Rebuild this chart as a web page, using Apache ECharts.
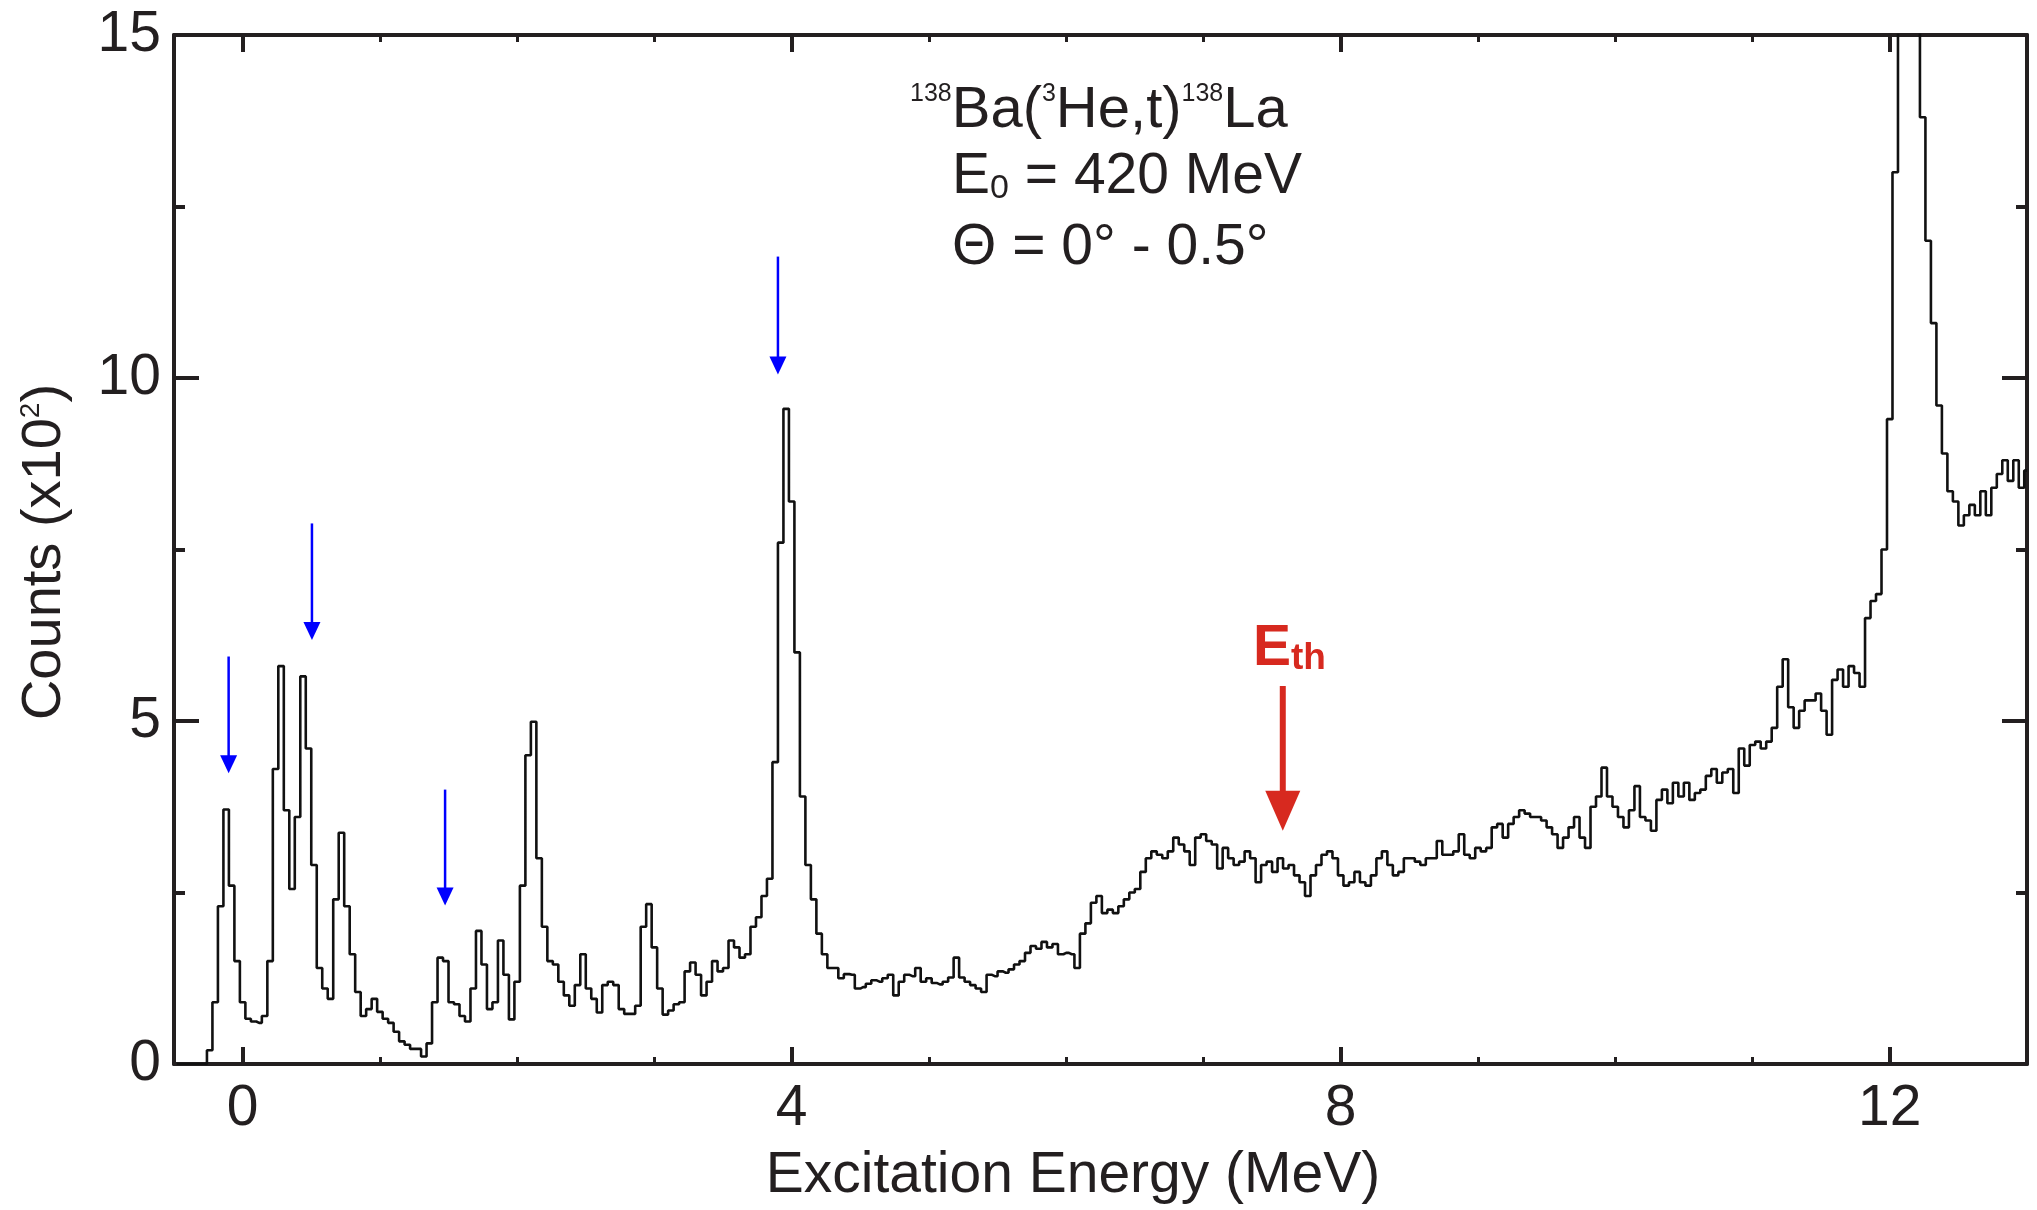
<!DOCTYPE html>
<html>
<head>
<meta charset="utf-8">
<script src="https://cdn.jsdelivr.net/npm/echarts@6/dist/echarts.min.js"></script>
<style>
html,body{margin:0;padding:0;background:#ffffff;}
#chart{width:2037px;height:1210px;}
</style>
</head>
<body>
<div id="chart"></div>
<script>
// ---- histogram binning (MeV) ----
const binStart = -0.5;
const binWidth = 0.04;

// ---- counts per bin (x10^2), 10 bins per row ----
const counts = [
  0, 0, 0, 0, 0, 0, 0.2, 0.9, 2.3, 3.71,              // -0.50
  2.6, 1.5, 0.9, 0.66, 0.62, 0.6, 0.7, 1.5, 4.3, 5.8,  // -0.10
  3.7, 2.55, 3.6, 5.65, 4.6, 2.9, 1.4, 1.1, 0.95, 2.4, // 0.30
  3.37, 2.3, 1.6, 1.05, 0.7, 0.8, 0.95, 0.76, 0.66, 0.6, // 0.70
  0.47, 0.33, 0.28, 0.22, 0.22, 0.11, 0.3, 0.9, 1.55, 1.5, // 1.10
  0.9, 0.87, 0.7, 0.62, 1.1, 1.94, 1.45, 0.8, 0.9, 1.8,  // 1.50
  1.3, 0.65, 1.2, 2.6, 4.5, 4.99, 3.0, 2.0, 1.5, 1.45,   // 1.90
  1.2, 1.0, 0.85, 1.15, 1.6, 1.1, 0.95, 0.75, 1.15, 1.2, // 2.30
  1.15, 0.8, 0.73, 0.73, 0.85, 2.0, 2.33, 1.7, 1.1, 0.72, // 2.70
  0.78, 0.87, 0.9, 1.35, 1.48, 1.3, 1.0, 1.2, 1.5, 1.35, // 3.10
  1.4, 1.8, 1.7, 1.55, 1.6, 2.0, 2.14, 2.45, 2.7, 4.4,   // 3.50
  7.6, 9.55, 8.2, 6.0, 3.9, 2.9, 2.4, 1.9, 1.6, 1.4,     // 3.90
  1.4, 1.25, 1.31, 1.3, 1.1, 1.12, 1.17, 1.22, 1.2, 1.25, // 4.30
  1.3, 1.0, 1.2, 1.3, 1.28, 1.4, 1.2, 1.25, 1.18, 1.16,  // 4.70
  1.2, 1.26, 1.55, 1.26, 1.2, 1.15, 1.1, 1.05, 1.3, 1.28, // 5.10
  1.35, 1.33, 1.38, 1.45, 1.5, 1.62, 1.72, 1.68, 1.78, 1.7, // 5.50
  1.75, 1.6, 1.62, 1.6, 1.4, 1.9, 2.05, 2.35, 2.45, 2.2, // 5.90
  2.25, 2.2, 2.3, 2.4, 2.5, 2.55, 2.8, 3.0, 3.1, 3.05,   // 6.30
  3.0, 3.1, 3.3, 3.2, 3.1, 2.9, 3.3, 3.35, 3.25, 3.2,    // 6.70
  2.85, 3.15, 3.0, 2.9, 2.95, 3.1, 3.0, 2.65, 2.9, 2.95, // 7.10
  2.8, 3.0, 2.85, 2.9, 2.75, 2.65, 2.45, 2.75, 2.9, 3.05, // 7.50
  3.1, 3.0, 2.75, 2.6, 2.65, 2.8, 2.65, 2.6, 2.75, 3.0,  // 7.90
  3.1, 2.9, 2.75, 2.8, 3.0, 3.0, 2.95, 2.9, 3.0, 3.0,    // 8.30
  3.25, 3.05, 3.05, 3.1, 3.35, 3.05, 3.0, 3.15, 3.1, 3.15, // 8.70
  3.45, 3.5, 3.3, 3.5, 3.6, 3.7, 3.65, 3.6, 3.6, 3.55,   // 9.10
  3.45, 3.35, 3.15, 3.3, 3.45, 3.6, 3.3, 3.15, 3.75, 3.9, // 9.50
  4.32, 3.9, 3.75, 3.6, 3.45, 3.7, 4.05, 3.6, 3.55, 3.4, // 9.90
  3.85, 4.0, 3.8, 4.1, 3.9, 4.1, 3.85, 3.95, 4.0, 4.2,   // 10.30
  4.3, 4.1, 4.25, 4.3, 3.95, 4.6, 4.35, 4.65, 4.7, 4.6,  // 10.70
  4.7, 4.9, 5.5, 5.9, 5.2, 4.9, 5.15, 5.3, 5.3, 5.4,     // 11.10
  5.15, 4.8, 5.6, 5.75, 5.5, 5.8, 5.7, 5.5, 6.5, 6.75,   // 11.50
  6.85, 7.5, 9.4, 13.0, 19.0, 22.0, 21.0, 18.0, 13.8, 12.0, // 11.90
  10.8, 9.6, 8.9, 8.35, 8.2, 7.85, 8.0, 8.15, 8.0, 8.35, // 12.30
  8.0, 8.4, 8.6, 8.8, 8.5, 8.8, 8.4, 8.65                // 12.70
];

// ---- axes ----
const xMin = -0.5, xMax = 13;
const xMajorTicks = [0, 4, 8, 12];
const xMinorTicks = [1, 2, 3, 5, 6, 7, 9, 10, 11];
const yMin = 0, yMax = 15, yInterval = 5;

// ---- annotation arrows: energy (MeV), shaft top and tip (x10^2 counts) ----
const blueArrowE   = [-0.102, 0.505, 1.475, 3.90];
const blueArrowTop = [5.94, 7.88, 4.0, 11.77];
const blueArrowTip = [4.24, 6.18, 2.31, 10.05];
const thrArrowE   = [7.578];
const thrArrowTop = [5.51];
const thrArrowTip = [3.40];

// ---- texts ----
const xTitle = 'Excitation Energy (MeV)';
const yTitleRich = '{m|Counts (x10}{s|2}{m|)}';
const reactionRich = '{s|138}{m|Ba(}{s|3}{m|He,t)}{s|138}{m|La}';
const beamRich = '{m|E}{b|0}{m| = 420 MeV}';
const angleText = '\u0398 = 0\u00b0 - 0.5\u00b0';
const thrRich = '{e|E}{t|th}';

// ---- build ----
const FONT = '"Liberation Sans", Arial, Helvetica, sans-serif';
const INK = '#231f20';
const RED = '#d7291f';
const BLUE = '#0000ff';

const histData = counts.map((v, i) => [binStart + binWidth * (i + 0.5), v]);
const blueData = blueArrowE.map((e, i) => [e, blueArrowTop[i], blueArrowTip[i]]);
const thrData = thrArrowE.map((e, i) => [e, thrArrowTop[i], thrArrowTip[i]]);

function arrowRenderer(color, shaftW, headW, headL) {
  return function (params, api) {
    const x = api.value(0), top = api.value(1), tip = api.value(2);
    const p0 = api.coord([x, top]);
    const p1 = api.coord([x, tip]);
    return {
      type: 'group',
      children: [
        { type: 'line', shape: { x1: p0[0], y1: p0[1], x2: p1[0], y2: p1[1] - headL + 1 },
          style: { stroke: color, lineWidth: shaftW } },
        { type: 'polygon',
          shape: { points: [[p1[0], p1[1]], [p1[0] - headW / 2, p1[1] - headL], [p1[0] + headW / 2, p1[1] - headL]] },
          style: { fill: color } }
      ]
    };
  };
}

const axisLineStyle = { color: INK, width: 4 };

const chart = echarts.init(document.getElementById('chart'), null, { renderer: 'canvas' });
chart.setOption({
  animation: false,
  backgroundColor: '#ffffff',
  grid: { left: 174, right: 10, top: 35, bottom: 143, containLabel: false },
  xAxis: [
    { type: 'value', position: 'bottom', min: xMin, max: xMax,
      axisLine: { show: true, onZero: false, lineStyle: axisLineStyle },
      axisTick: { show: true, inside: true, length: 17, customValues: xMajorTicks, lineStyle: { color: INK, width: 4 } },
      axisLabel: { show: true, customValues: xMajorTicks, margin: 17, fontSize: 57, fontFamily: FONT, color: INK, lineHeight: 57 },
      splitLine: { show: false },
      name: xTitle, nameLocation: 'middle', nameGap: 84,
      nameTextStyle: { fontSize: 57, fontFamily: FONT, color: INK, lineHeight: 57, padding: [0, 55, 0, 0] }
    },
    { type: 'value', position: 'bottom', min: xMin, max: xMax,
      axisLine: { show: false, onZero: false },
      axisTick: { show: true, inside: true, length: 7, customValues: xMinorTicks, lineStyle: { color: INK, width: 3 } },
      axisLabel: { show: false }, splitLine: { show: false }
    },
    { type: 'value', position: 'top', min: xMin, max: xMax,
      axisLine: { show: true, onZero: false, lineStyle: axisLineStyle },
      axisTick: { show: true, inside: true, length: 17, customValues: xMajorTicks, lineStyle: { color: INK, width: 4 } },
      axisLabel: { show: false }, splitLine: { show: false }
    },
    { type: 'value', position: 'top', min: xMin, max: xMax,
      axisLine: { show: false, onZero: false },
      axisTick: { show: true, inside: true, length: 7, customValues: xMinorTicks, lineStyle: { color: INK, width: 3 } },
      axisLabel: { show: false }, splitLine: { show: false }
    }
  ],
  yAxis: [
    { type: 'value', position: 'left', min: yMin, max: yMax, interval: yInterval,
      axisLine: { show: true, onZero: false, lineStyle: axisLineStyle },
      axisTick: { show: true, inside: true, length: 25, lineStyle: { color: INK, width: 4 } },
      minorTick: { show: true, splitNumber: 2, length: 11, lineStyle: { color: INK, width: 4 } },
      axisLabel: { show: true, margin: 13, fontSize: 57, fontFamily: FONT, color: INK },
      splitLine: { show: false }
    },
    { type: 'value', position: 'right', min: yMin, max: yMax, interval: yInterval,
      axisLine: { show: true, onZero: false, lineStyle: axisLineStyle },
      axisTick: { show: true, inside: true, length: 25, lineStyle: { color: INK, width: 4 } },
      minorTick: { show: true, splitNumber: 2, length: 11, lineStyle: { color: INK, width: 4 } },
      axisLabel: { show: false },
      splitLine: { show: false }
    }
  ],
  series: [
    { name: 'counts', type: 'line', xAxisIndex: 0, yAxisIndex: 0,
      data: histData, step: 'middle', symbol: 'none', clip: true,
      lineStyle: { color: '#111111', width: 2.6 }, z: 3 },
    { name: 'levels', type: 'custom', xAxisIndex: 0, yAxisIndex: 0,
      data: blueData, encode: { x: 0, y: [1, 2] },
      renderItem: arrowRenderer(BLUE, 2.5, 17, 18), z: 4 },
    { name: 'threshold', type: 'custom', xAxisIndex: 0, yAxisIndex: 0,
      data: thrData, encode: { x: 0, y: [1, 2] },
      renderItem: arrowRenderer(RED, 6, 35, 40), z: 4 }
  ],
  graphic: [
    { type: 'text', x: 910, y: 111, z: 10,
      style: { text: reactionRich, align: 'left', verticalAlign: 'middle', textAlign: 'left', textVerticalAlign: 'middle',
        rich: {
          m: { fontSize: 58, fontFamily: FONT, fill: INK, lineHeight: 58 },
          s: { fontSize: 25, fontFamily: FONT, fill: INK, lineHeight: 16, verticalAlign: 'top' }
        } } },
    { type: 'text', x: 952, y: 177, z: 10,
      style: { text: beamRich, align: 'left', verticalAlign: 'middle', textAlign: 'left', textVerticalAlign: 'middle',
        rich: {
          m: { fontSize: 57, fontFamily: FONT, fill: INK, lineHeight: 58 },
          b: { fontSize: 34, fontFamily: FONT, fill: INK, lineHeight: 22, verticalAlign: 'bottom' }
        } } },
    { type: 'text', x: 952, y: 248, z: 10,
      style: { text: angleText, align: 'left', verticalAlign: 'middle', textAlign: 'left', textVerticalAlign: 'middle',
        fontSize: 57, fontFamily: FONT, fill: INK, font: '57px ' + FONT } },
    { type: 'text', x: 45, y: 552, rotation: Math.PI / 2, z: 10,
      style: { text: yTitleRich, align: 'center', verticalAlign: 'middle', textAlign: 'center', textVerticalAlign: 'middle',
        rich: {
          m: { fontSize: 56, fontFamily: FONT, fill: INK, lineHeight: 56 },
          s: { fontSize: 28, fontFamily: FONT, fill: INK, lineHeight: 20, verticalAlign: 'top' }
        } } },
    { type: 'text', x: 1253, y: 649, z: 10,
      style: { text: thrRich, align: 'left', verticalAlign: 'middle', textAlign: 'left', textVerticalAlign: 'middle',
        rich: {
          e: { fontSize: 57, fontWeight: 'bold', fontFamily: FONT, fill: RED, lineHeight: 57 },
          t: { fontSize: 37, fontWeight: 'bold', fontFamily: FONT, fill: RED, lineHeight: 16, verticalAlign: 'bottom' }
        } } }
  ]
});
</script>
</body>
</html>
